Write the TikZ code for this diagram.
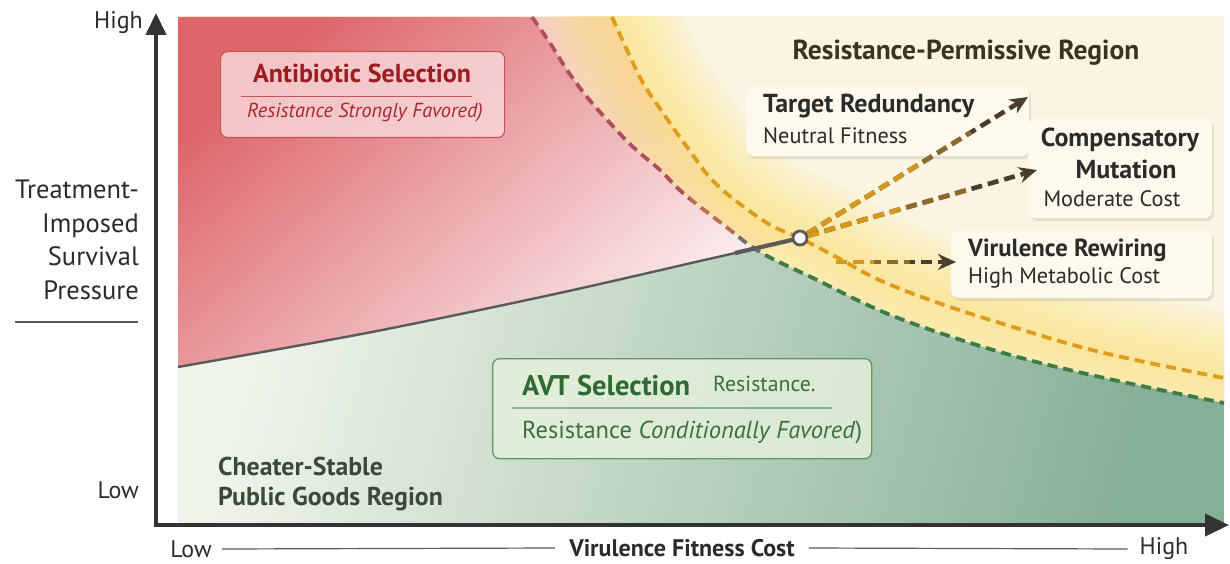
\documentclass[tikz,border=0pt]{standalone}
\usepackage{fontspec}
\setmainfont{PT Sans}
\usetikzlibrary{arrows.meta,calc,shadows}
\definecolor{axisgray}{HTML}{333333}
\definecolor{txtdark}{HTML}{2B2B2B}
\definecolor{redA}{HTML}{DD666B}
\definecolor{redB}{HTML}{F1ACB0}
\definecolor{redC}{HTML}{FCEFF1}
\definecolor{grnA}{HTML}{EFF4EB}
\definecolor{grnB}{HTML}{BCD8BF}
\definecolor{grnC}{HTML}{86AF98}
\definecolor{creamBg}{HTML}{FAF4E0}
\definecolor{glowY}{HTML}{FDE47C}
\definecolor{peachA}{HTML}{F6CDC2}
\definecolor{peachB}{HTML}{FBE6CC}
\definecolor{redDash}{HTML}{B04E5C}
\definecolor{brnDash}{HTML}{B87050}
\definecolor{grayDash}{HTML}{707070}
\definecolor{grnDash}{HTML}{3E7C45}
\definecolor{orgDash}{HTML}{DE9C1E}
\definecolor{arrDark}{HTML}{4B3D2B}
\definecolor{arrMid}{HTML}{8C6A2E}
\definecolor{arrOrg}{HTML}{D6971F}
\definecolor{boxCream}{HTML}{FDF9EC}
\definecolor{abTitle}{HTML}{9A1D22}
\definecolor{abSub}{HTML}{A8282E}
\definecolor{abLine}{HTML}{C4555A}
\definecolor{abFill}{HTML}{F8D6D8}
\definecolor{avtTitle}{HTML}{2F6A33}
\definecolor{avtTxt}{HTML}{3C6E3E}
\definecolor{avtFill}{HTML}{E3F0DB}
\definecolor{avtLine}{HTML}{62975F}
\definecolor{avtSep}{HTML}{90AD90}
\definecolor{cheat}{HTML}{3A4A38}
\definecolor{permTxt}{HTML}{3A3324}
\definecolor{curveGray}{HTML}{5A5A5A}
\begin{document}
\begin{tikzpicture}[x=1pt,y=-1pt,
  curvedash/.style={line width=3.8pt, dash pattern=on 10pt off 6pt},
  arrdash/.style={line width=4.6pt, dash pattern=on 11pt off 6pt},
  axlbl/.style={inner sep=0pt, text=txtdark, font=\fontsize{24}{28}\selectfont},
  creambox/.style={draw=none, fill=boxCream, rounded corners=8pt, inner sep=0pt,
     drop shadow={shadow xshift=2pt, shadow yshift=-3pt, opacity=0.18}},
  boxtitle/.style={inner sep=0pt, text=txtdark, font=\fontsize{26}{30}\selectfont\bfseries},
  boxsub/.style={inner sep=0pt, text=txtdark, font=\fontsize{22.3}{26}\selectfont},
  tip/.style={-{Stealth[length=18pt,width=16pt]}},
]
\useasboundingbox (0,0) rectangle (1230,564);
\fill[white] (0,0) rectangle (1230,564);

% ---------- background regions ----------
\begin{scope}
\clip (178,17) rectangle (1224,525);
\fill[creamBg] (170,10) rectangle (1230,530);
% peach band between red and orange curves
\shade[left color=peachA, right color=peachB]
  (532,17) -- (612,17) -- plot[smooth,tension=0.6] coordinates {(612,17) (627,50) (643,83) (663,113) (687,147) (717,185) (767,223) (800,238)}
  -- (760,252) -- plot[smooth,tension=0.6] coordinates {(760,252) (725,226) (683,193) (660,170) (633,147) (610,123) (587,97) (567,70) (550,43) (532,17)} -- cycle;
% yellow glow around orange curve
\foreach \w in {130,120,...,10}{
  \draw[glowY, line width=\w pt, opacity=0.07, line cap=round]
    plot[smooth,tension=0.6] coordinates {(605,-10) (612,17) (627,50) (643,83) (663,113) (687,147) (717,185) (767,223) (800,238) (840,259) (877,279) (930,300) (1000,323) (1100,352) (1224,378) (1260,385)};
}
% red and green regions (left of dashed curve)
\begin{scope}
\clip (178,17) -- (532,17) -- plot[smooth,tension=0.6] coordinates {(532,17) (550,43) (567,70) (587,97) (610,123) (633,147) (660,170) (683,193) (725,226) (760,252) (813,278) (893,316) (1000,352) (1100,377) (1224,403)} -- (1224,525) -- (178,525) -- cycle;
\begin{scope}
\clip (170,10) -- (170,367) -- plot[smooth,tension=0.5] coordinates {(178,367) (372,332) (555,294) (700,261) (753,249) (800,238)} -- (1230,140) -- (1230,10) -- cycle;
\shade[left color=redA, middle color=redB, right color=redC, shading angle=42] (178,17) rectangle (770,370);
\end{scope}
\begin{scope}
\clip (170,367) -- plot[smooth,tension=0.5] coordinates {(178,367) (372,332) (555,294) (700,261) (753,249) (800,238)} -- (1230,140) -- (1230,530) -- (170,530) -- cycle;
\shade[left color=grnA, middle color=grnB, right color=grnC, shading angle=75] (178,240) rectangle (1224,525);
\end{scope}
\end{scope}
\end{scope}

% ---------- dashed boundary curves ----------
\def\rgcurve{plot[smooth,tension=0.6] coordinates {(532,17) (550,43) (567,70) (587,97) (610,123) (633,147) (660,170) (683,193) (725,226) (760,252) (813,278) (893,316) (1000,352) (1100,377) (1224,403)}}
\begin{scope}
\clip (170,10) rectangle (690,530);
\draw[curvedash, redDash] \rgcurve;
\end{scope}
\begin{scope}
\clip (690,10) rectangle (733,530);
\draw[curvedash, brnDash] \rgcurve;
\end{scope}
\begin{scope}
\clip (733,10) rectangle (765,530);
\draw[curvedash, grayDash] \rgcurve;
\end{scope}
\begin{scope}
\clip (765,10) rectangle (1224,530);
\draw[curvedash, grnDash] \rgcurve;
\end{scope}
\begin{scope}
\clip (178,17) rectangle (1224,525);
\draw[curvedash, orgDash] plot[smooth,tension=0.6] coordinates {(612,17) (627,50) (643,83) (663,113) (687,147) (717,185) (767,223) (800,238) (840,259) (877,279) (930,300) (1000,323) (1100,352) (1224,378)};
\end{scope}

% ---------- gray solid trajectory ----------
\draw[curveGray, line width=2.4pt] plot[smooth,tension=0.5] coordinates {(178,367) (372,332) (555,294) (700,261) (753,249) (800,238)};
\draw[curveGray, line width=4.2pt] (735,253) -- (794,239.5);
\node[circle, draw=curveGray, fill=white, line width=2.8pt, minimum size=14pt, inner sep=0pt] (c) at (800,238) {};

% ---------- cream boxes ----------
\node[creambox, anchor=north west, minimum width=283pt, minimum height=70pt] (tbox) at (746,86) {};
\node[creambox, anchor=north west, minimum width=184pt, minimum height=100pt] (cbox) at (1028,118) {};
\node[creambox, anchor=north west, minimum width=261pt, minimum height=68pt] (vbox) at (951,230) {};

\node[boxtitle, anchor=west] (ttitle) at (763,106) {Target Redundancy};
\node[boxsub, anchor=west] (tsub) at (763,136) {Neutral Fitness};
\node[boxtitle, anchor=center] (ctitle) at (1120,140) {Compensatory};
\node[boxtitle, anchor=center] (ctitle2) at (1126,169) {Mutation};
\node[boxsub, anchor=center] (csub) at (1112,199) {Moderate Cost};
\node[boxtitle, font=\fontsize{24.7}{29}\selectfont\bfseries, anchor=west] (vtitle) at (968,250) {Virulence Rewiring};
\node[boxsub, anchor=west] (vsub) at (968,278) {High Metabolic Cost};

% ---------- arrows from the circle ----------
\coordinate (t1) at (1028,97);
\coordinate (t2) at (1037,170);
\coordinate (s3) at (836,262);
\coordinate (t3) at (956,262);
\draw[arrdash, arrDark, tip] (c) -- (t1);
\draw[arrdash, arrMid] (c) -- ($(c)!0.75!(t1)$);
\draw[arrdash, arrOrg] (c) -- ($(c)!0.52!(t1)$);
\draw[arrdash, arrDark, tip] (c) -- (t2);
\draw[arrdash, arrMid] (c) -- ($(c)!0.72!(t2)$);
\draw[arrdash, arrOrg] (c) -- ($(c)!0.45!(t2)$);
\draw[arrdash, arrDark, tip] (s3) -- (t3);
\draw[arrdash, arrMid] (s3) -- ($(s3)!0.62!(t3)$);
\draw[arrdash, arrOrg] (s3) -- ($(s3)!0.32!(t3)$);

% ---------- Antibiotic box ----------
\node[draw=abLine, line width=1.2pt, fill=abFill, fill opacity=0.85, rounded corners=7pt,
      anchor=north west, minimum width=284pt, minimum height=86pt, inner sep=0pt] (abox) at (220,51) {};
\node[inner sep=0pt, text=abTitle, font=\fontsize{26}{30}\selectfont\bfseries] (atitle) at (362,73) {Antibiotic Selection};
\coordinate (al1) at (241,97);
\coordinate (al2) at (472,97);
\draw[abLine, line width=1pt] (al1) -- (al2);
\node[inner sep=0pt, text=abSub, font=\fontsize{20.3}{24}\selectfont\itshape] (asub) at (365,113) {Resistance Strongly Favored)};

% ---------- AVT box ----------
\node[draw=avtLine, line width=1.3pt, fill=avtFill, fill opacity=0.85, rounded corners=7pt,
      anchor=north west, minimum width=379pt, minimum height=100pt, inner sep=0pt] (avtbox) at (492,358) {};
\node[inner sep=0pt, anchor=west, text=avtTitle, font=\fontsize{28.5}{33}\selectfont\bfseries] (avtitle) at (522,386) {AVT Selection};
\node[inner sep=0pt, anchor=west, text=avtTxt, font=\fontsize{21.8}{26}\selectfont] (avres) at (713,384) {Resistance.};
\coordinate (vl1) at (512,408);
\coordinate (vl2) at (832,408);
\draw[avtSep, line width=1.3pt] (vl1) -- (vl2);
\node[inner sep=0pt, anchor=west, text=avtTxt, font=\fontsize{24.5}{29}\selectfont] (avsub) at (522,432) {Resistance \textit{Conditionally Favored})};

% ---------- region labels ----------
\node[inner sep=0pt, text=permTxt, font=\fontsize{27.5}{32}\selectfont\bfseries] (perm) at (966,53) {Resistance-Permissive Region};
\node[inner sep=0pt, anchor=north west, align=left, text=cheat, font=\fontsize{25.8}{30}\selectfont\bfseries] (cheat) at (218,457) {Cheater-Stable\\Public Goods Region};

% ---------- axes ----------
\coordinate (O) at (156,525);
\coordinate (ytop) at (156,13);
\coordinate (xend) at (1229,525);
\draw[axisgray, line width=4pt, -{Triangle[length=22pt,width=20pt]}] ([yshift=2pt]O) -- (ytop);
\draw[axisgray, line width=4pt, -{Triangle[length=24pt,width=22pt]}] ([xshift=-2pt]O) -- (xend);

\node[axlbl, anchor=east] (yhigh) at (143,23) {High};
\node[axlbl, anchor=east] (ylow) at (139,490) {Low};
\node[axlbl, anchor=north east, align=right, font=\fontsize{26.5}{33.5}\selectfont] (ylab) at (139,180) {Treatment-\\Imposed\\Survival\\Pressure};
\coordinate (ys1) at (15,322);
\coordinate (ys2) at (138,322);
\draw[curveGray, line width=1.3pt] (ys1) -- (ys2);

\node[axlbl] (xlow) at (191,549) {Low};
\node[axlbl, font=\fontsize{24}{28}\selectfont\bfseries] (xlab) at (682,548) {Virulence Fitness Cost};
\node[axlbl] (xhigh) at (1164,549) {High};
\draw[curveGray, line width=1.2pt] ([xshift=10pt]xlow.east) -- ([xshift=-14pt]xlab.west);
\draw[curveGray, line width=1.2pt] ([xshift=14pt]xlab.east) -- ([xshift=-12pt]xhigh.west);
\end{tikzpicture}
\end{document}
